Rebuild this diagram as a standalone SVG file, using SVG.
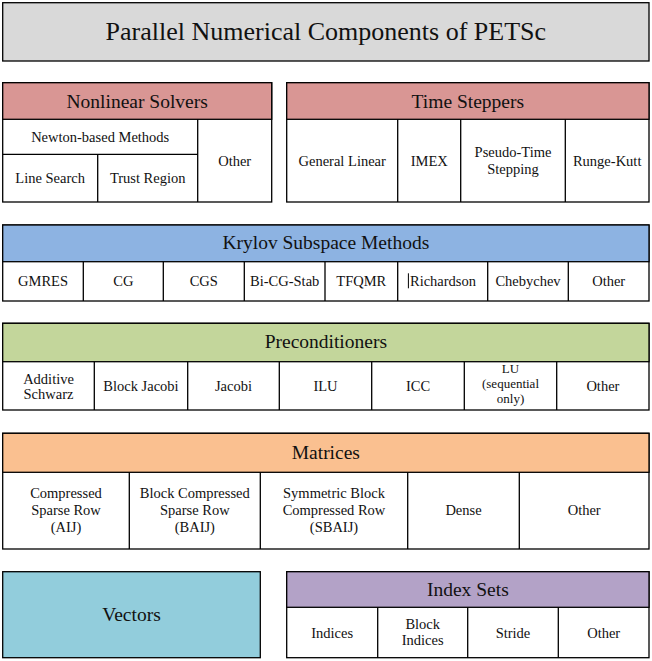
<svg xmlns="http://www.w3.org/2000/svg" width="652" height="661" viewBox="0 0 652 661">
<style>
.b{stroke:#000;stroke-width:1.3;}
.w{fill:#fff;}
.l{stroke:#000;stroke-width:1.3;fill:none;}
text{font-family:"Liberation Serif","Times New Roman",serif;fill:#111;text-anchor:middle;}
.t{font-size:26px;}
.h{font-size:19.5px;}
.c{font-size:14.5px;}
.s{font-size:13px;}
</style>
<rect width="652" height="661" fill="#fff"/>
<g id="title">
<rect class="b" x="2.7" y="2.7" width="646.3" height="58.3" fill="#d9d9d9"/>
<text class="t" x="325.85" y="40.3">Parallel Numerical Components of PETSc</text>
</g>
<g id="nonlinear-solvers">
<rect class="b w" x="2.7" y="82.7" width="269" height="119.3"/>
<rect class="b" x="2.7" y="82.7" width="269" height="36.6" fill="#d99694"/>
<path class="l" d="M197.7 119.3V202M2.7 154.3H197.7M97.7 154.3V202"/>
<text class="h" x="137.2" y="108.3">Nonlinear Solvers</text>
<text class="c" x="100.2" y="141.7">Newton-based Methods</text>
<text class="c" x="50.2" y="183.3">Line Search</text>
<text class="c" x="147.7" y="183.3">Trust Region</text>
<text class="c" x="234.7" y="165.7">Other</text>
</g>
<g id="time-steppers">
<rect class="b w" x="286.7" y="82.7" width="362.3" height="119.3"/>
<rect class="b" x="286.7" y="82.7" width="362.3" height="36.6" fill="#d99694"/>
<path class="l" d="M397.7 119.3V202M460.7 119.3V202M565.3 119.3V202"/>
<text class="h" x="467.85" y="108.3">Time Steppers</text>
<text class="c" x="342.2" y="165.7">General Linear</text>
<text class="c" x="429.2" y="165.7">IMEX</text>
<text class="c" x="513" y="157">Pseudo-Time</text>
<text class="c" x="513" y="173.5">Stepping</text>
<text class="c" x="607.2" y="165.7">Runge-Kutt</text>
</g>
<g id="krylov">
<rect class="b w" x="2.7" y="225" width="646.3" height="76"/>
<rect class="b" x="2.7" y="225" width="646.3" height="36.7" fill="#8db3e2"/>
<path class="l" d="M83.3 261.7V301M163.3 261.7V301M244.3 261.7V301M325 261.7V301M397.7 261.7V301M487.7 261.7V301M568.3 261.7V301"/>
<text class="h" x="325.85" y="249.3">Krylov Subspace Methods</text>
<text class="c" x="43" y="285.5">GMRES</text>
<text class="c" x="123.3" y="285.5">CG</text>
<text class="c" x="203.8" y="285.5">CGS</text>
<text class="c" x="284.7" y="285.5">Bi-CG-Stab</text>
<text class="c" x="361.3" y="285.5">TFQMR</text>
<text class="c" x="443" y="285.5">Richardson</text>
<path d="M408.4 273.3V288.3" stroke="#000" stroke-width="1"/>
<text class="c" x="528" y="285.5">Chebychev</text>
<text class="c" x="608.7" y="285.5">Other</text>
</g>
<g id="preconditioners">
<rect class="b w" x="2.7" y="323.3" width="646.3" height="86.7"/>
<rect class="b" x="2.7" y="323.3" width="646.3" height="38.4" fill="#c3d69b"/>
<path class="l" d="M94.3 361.7V410M187.7 361.7V410M279.3 361.7V410M371.7 361.7V410M464.3 361.7V410M556.7 361.7V410"/>
<text class="h" x="325.85" y="348.3">Preconditioners</text>
<text class="c" x="48.5" y="383.5">Additive</text>
<text class="c" x="48.5" y="399">Schwarz</text>
<text class="c" x="141" y="391">Block Jacobi</text>
<text class="c" x="233.5" y="391">Jacobi</text>
<text class="c" x="325.5" y="391">ILU</text>
<text class="c" x="418" y="391">ICC</text>
<text class="s" x="510.5" y="373.2">LU</text>
<text class="s" x="510.5" y="388.3">(sequential</text>
<text class="s" x="510.5" y="403.4">only)</text>
<text class="c" x="602.9" y="391">Other</text>
</g>
<g id="matrices">
<rect class="b w" x="2.7" y="433.3" width="646.3" height="115.7"/>
<rect class="b" x="2.7" y="433.3" width="646.3" height="39" fill="#fac090"/>
<path class="l" d="M129.3 472.3V549M260.3 472.3V549M407.7 472.3V549M519.3 472.3V549"/>
<text class="h" x="325.85" y="459.3">Matrices</text>
<text class="c" x="66" y="498.3">Compressed</text>
<text class="c" x="66" y="515">Sparse Row</text>
<text class="c" x="66" y="531.7">(AIJ)</text>
<text class="c" x="194.8" y="498.3">Block Compressed</text>
<text class="c" x="194.8" y="515">Sparse Row</text>
<text class="c" x="194.8" y="531.7">(BAIJ)</text>
<text class="c" x="334" y="498.3">Symmetric Block</text>
<text class="c" x="334" y="515">Compressed Row</text>
<text class="c" x="334" y="531.7">(SBAIJ)</text>
<text class="c" x="463.5" y="515">Dense</text>
<text class="c" x="584.2" y="515">Other</text>
</g>
<g id="vectors">
<rect class="b" x="2.7" y="571.7" width="257.6" height="86" fill="#92cddc"/>
<text class="h" x="131.5" y="621">Vectors</text>
</g>
<g id="index-sets">
<rect class="b w" x="286.7" y="571.7" width="362.3" height="86"/>
<rect class="b" x="286.7" y="571.7" width="362.3" height="35.6" fill="#b3a2c7"/>
<path class="l" d="M377.7 607.3V657.7M467.7 607.3V657.7M558.3 607.3V657.7"/>
<text class="h" x="467.85" y="595.7">Index Sets</text>
<text class="c" x="332.2" y="637.5">Indices</text>
<text class="c" x="422.7" y="628.5">Block</text>
<text class="c" x="422.7" y="645">Indices</text>
<text class="c" x="513" y="637.5">Stride</text>
<text class="c" x="603.7" y="637.5">Other</text>
</g>
<g id="connectors"/>
</svg>
